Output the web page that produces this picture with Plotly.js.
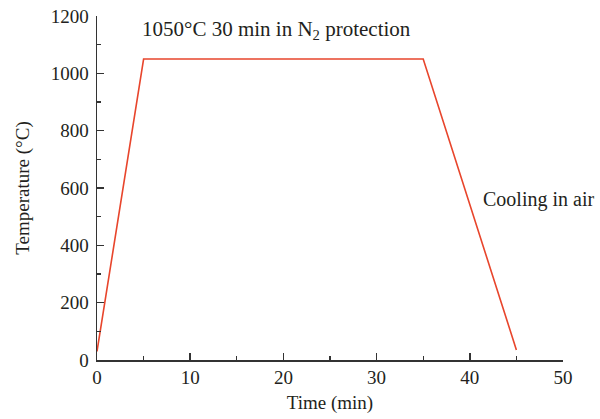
<!DOCTYPE html>
<html><head><meta charset="utf-8">
<script src="https://cdn.plot.ly/plotly-3.0.1.min.js"></script>
<style>body{margin:0;background:#fff}#c{width:600px;height:419px}</style>
</head><body><div id="c"></div>
<script>
const timeMin = [0, 5, 35, 45];
const tempC = [30, 1050, 1050, 35];
const xTicks = [0, 10, 20, 30, 40, 50];
const yTicks = [0, 200, 400, 600, 800, 1000, 1200];
const noteHold = "1050°C 30 min in N<sub>2</sub> protection";
const noteCool = "Cooling in air";

const font = {family: "Liberation Serif, Times New Roman, serif", size: 19, color: "#231f20"};
const noteFont = {family: "Liberation Serif, Times New Roman, serif", size: 21, color: "#231f20"};
const coolFont = {family: "Liberation Serif, Times New Roman, serif", size: 20, color: "#231f20"};
const axisCommon = {
  showgrid: false, zeroline: false, showline: true, linecolor: "#333333", linewidth: 1.5,
  ticks: "inside", ticklen: 7, tickwidth: 1.5, tickcolor: "#333333",
  tickfont: font, mirror: false,
  minor: {ticks: "inside", ticklen: 4, tickwidth: 1.2, tickcolor: "#333333"}
};
Plotly.newPlot("c", [{
  x: timeMin, y: tempC, type: "scatter", mode: "lines",
  line: {color: "#e8452c", width: 1.6}, hoverinfo: "skip"
}], {
  width: 600, height: 419,
  margin: {l: 97, r: 37, t: 16, b: 59},
  paper_bgcolor: "#fff", plot_bgcolor: "#fff",
  font: font, showlegend: false,
  xaxis: Object.assign({}, axisCommon, {
    range: [0, 50], tickvals: xTicks, minor: Object.assign({}, axisCommon.minor, {dtick: 5, tick0: 0}),
    title: {text: "Time (min)", font: font, standoff: 8}
  }),
  yaxis: Object.assign({}, axisCommon, {
    range: [0, 1200], tickvals: yTicks, minor: Object.assign({}, axisCommon.minor, {dtick: 100, tick0: 0}),
    ticklabelstandoff: 3,
    title: {text: "Temperature (°C)", font: font, standoff: 16}
  }),
  annotations: [
    {x: 4.6, y: 1151, xref: "x", yref: "y", text: noteHold, showarrow: false, xanchor: "left", yanchor: "middle", font: noteFont},
    {x: 41.2, y: 561, xref: "x", yref: "y", text: noteCool, showarrow: false, xanchor: "left", yanchor: "middle", font: coolFont}
  ]
}, {displayModeBar: false, staticPlot: true});
</script></body></html>
